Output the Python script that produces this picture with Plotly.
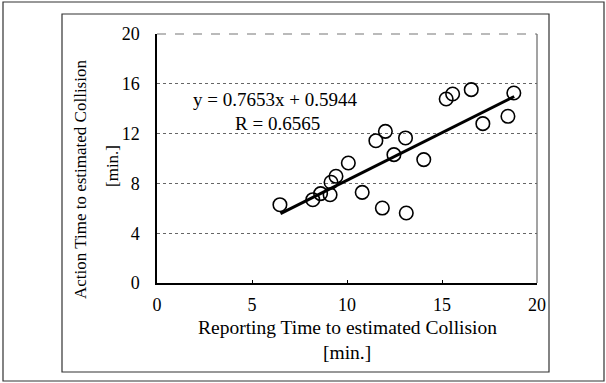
import plotly.graph_objects as go

# Data
report_time = [6.47, 8.20, 8.61, 9.11, 9.16, 9.42, 10.07, 10.80, 11.52, 12.02, 11.86,
               12.47, 13.08, 13.12, 14.04, 15.22, 15.56, 16.54, 17.15, 18.47, 18.78]
action_time = [6.29, 6.69, 7.18, 7.09, 8.09, 8.57, 9.64, 7.28, 11.43, 12.18, 6.02,
               10.31, 11.65, 5.62, 9.91, 14.78, 15.18, 15.53, 12.80, 13.39, 15.26]
trend_x = [6.5, 18.8]
trend_y = [5.57, 14.98]
x_ticks = [0, 5, 10, 15, 20]
y_ticks = [0, 4, 8, 12, 16, 20]
eq_text = "y = 0.7653x + 0.5944"
r_text = "R = 0.6565"

FONT = "Liberation Serif, Times New Roman, serif"

fig = go.Figure()
fig.add_trace(go.Scatter(
    x=report_time, y=action_time, mode="markers",
    marker=dict(symbol="circle-open", size=13.5, color="black", line=dict(width=1.6, color="black")),
    showlegend=False, hoverinfo="skip"))
fig.add_trace(go.Scatter(
    x=trend_x, y=trend_y, mode="lines",
    line=dict(color="black", width=3), showlegend=False, hoverinfo="skip"))

L, R, T, B = 157, 69, 34, 100
W, H = 606, 383
pw, ph = W - L - R, H - T - B

def px(x):
    return (x - L) / pw

def py(y):
    return (H - B - y) / ph

shapes = [
    # outer frame
    dict(type="rect", xref="paper", yref="paper", x0=px(3), x1=px(604), y0=py(381), y1=py(2),
         line=dict(color="#333", width=1.2)),
    # inner frame
    dict(type="rect", xref="paper", yref="paper", x0=px(62), x1=px(549), y0=py(372), y1=py(14),
         line=dict(color="#333", width=1.2)),
    # plot area top and right
    dict(type="line", xref="paper", yref="paper", x0=0, x1=1, y0=1, y1=1,
         line=dict(color="#777", width=1.2, dash="dash")),
    dict(type="line", xref="paper", yref="paper", x0=1, x1=1, y0=0, y1=1,
         line=dict(color="#666", width=1.2)),
]

def ann(text, x, y, size, angle=0):
    return dict(text=text, x=px(x), y=py(y), xref="paper", yref="paper", showarrow=False,
                xanchor="center", yanchor="middle", textangle=angle,
                font=dict(family=FONT, size=size, color="black"))

annotations = [
    ann(eq_text, 275, 99, 19),
    ann(r_text, 277, 123, 19),
    ann("Reporting Time to estimated Collision", 347, 327, 19.5),
    ann("[min.]", 347, 352, 19.5),
    ann("Action Time to estimated Collision", 80, 180, 17, -90),
    ann("[min.]", 113, 166, 17, -90),
]

fig.update_layout(
    width=W, height=H,
    margin=dict(l=L, r=R, t=T, b=B),
    paper_bgcolor="white", plot_bgcolor="white",
    font=dict(family=FONT, size=17, color="black"),
    shapes=shapes, annotations=annotations,
    xaxis=dict(range=[0, 20], tickvals=x_ticks, showgrid=False, zeroline=False,
               showline=True, linecolor="black", linewidth=1.5,
               ticks="inside", ticklen=3, tickcolor="black",
               ticklabelstandoff=5, tickfont=dict(family=FONT, size=18)),
    yaxis=dict(range=[0, 20], tickvals=y_ticks, showgrid=True, gridcolor="#666",
               griddash="dot", gridwidth=1, zeroline=False,
               showline=True, linecolor="black", linewidth=1.5,
               ticks="", ticklabelstandoff=12, tickfont=dict(family=FONT, size=18)),
)

fig.write_html("out.html", config={"displayModeBar": False},
               post_script="document.body.style.margin='0px';document.body.style.overflow='hidden';")
